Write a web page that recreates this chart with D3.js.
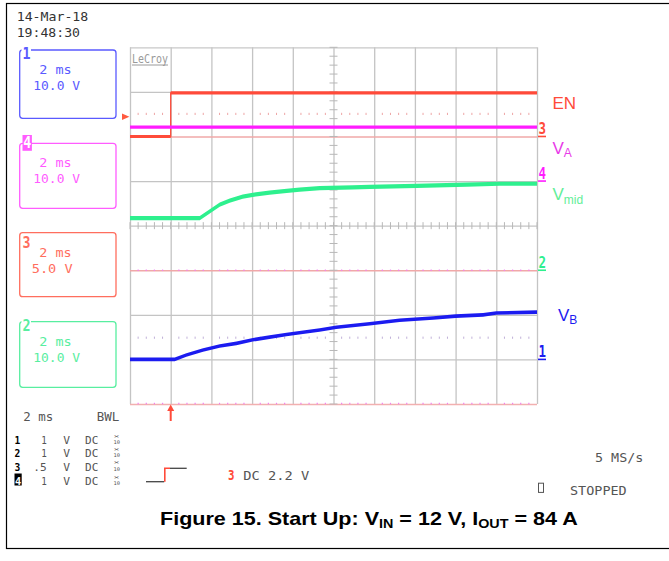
<!DOCTYPE html>
<html><head><meta charset="utf-8">
<script src="https://cdn.jsdelivr.net/npm/d3@7"></script>
<style>body{margin:0;background:#fff}svg{display:block}</style>
</head><body>
<svg id="c" width="669" height="561"></svg>
<script>
// Time base in ms: trigger at 0, 2 ms/div, 10 divisions
const timeDomain = [-2, 18];
const divTimes = d3.range(-2, 18.001, 2);
const divLevels = d3.range(-4, 4.001, 1);

// Channel set-up: volts per division and ground level (in divisions from centre)
const channelIds = ["1", "2", "3", "4"];
const voltsPerDiv = [10, 10, 5, 10];
const groundDiv = [-3, -1, 2, 1];
const channelColors = ["#1c1cf0", "#2ef08e", "#ff4b3a", "#ff1cff"];
const boxColors = ["#5a5aff", "#58eea0", "#ff6e5e", "#ff5cff"];

// EN (channel 3)
const enTime = [-2, 0, 0, 18];
const enVolts = [0, 0, 4.9, 4.9];
// V_A (channel 4)
const vaTime = [-2, 18];
const vaVolts = [12.1, 12.1];
// V_mid (channel 2)
const vmidTime = [-2, 1.43, 1.92, 2.41, 2.9, 3.54, 4.03, 4.86, 5.7, 6.34, 7.32, 8.94, 9.78, 12.09, 14.55, 16.17, 18];
const vmidVolts = [11.7, 11.7, 13.2, 14.7, 15.6, 16.5, 16.9, 17.4, 17.8, 18.1, 18.4, 18.6, 18.7, 18.9, 19.2, 19.4, 19.4];
// V_B (channel 1)
const vbTime = [-2, 0.2, 0.77, 1.59, 2.41, 3.23, 4.04, 4.86, 5.69, 6.5, 7.32, 8.14, 8.96, 9.78, 11.25, 12.9, 14.0, 15.35, 16.0, 18];
const vbVolts = [0, 0, 1.0, 2.1, 3.0, 3.6, 4.4, 5.0, 5.6, 6.1, 6.6, 7.2, 7.6, 8.0, 8.8, 9.3, 9.7, 10.0, 10.4, 10.6];

// Side panel texts
const boxOrder = ["1", "4", "3", "2"];
const boxTimebase = ["2 ms", "2 ms", "2 ms", "2 ms"];
const boxScale = ["10.0 V", "10.0 V", "5.0 V", "10.0 V"];
const rowChannel = ["1", "2", "3", "4"];
const rowScale = ["1", "1", ".5", "1"];
const traceNames = ["EN", "V_A", "V_mid", "V_B"];

const svg = d3.select("#c");
const L = 130, R = 537, T = 47.3, B = 404;
const MONO = "'DejaVu Sans Mono', 'Liberation Mono', monospace";
const SANS = "'Liberation Sans', Arial, sans-serif";

const x = d3.scaleLinear().domain(timeDomain).range([L, R]);
const div = d3.scaleLinear().domain([-4, 4]).range([B, T]);
function chanScale(id) {
  const i = channelIds.indexOf(id);
  return d3.scaleLinear()
    .domain([(-4 - groundDiv[i]) * voltsPerDiv[i], (4 - groundDiv[i]) * voltsPerDiv[i]])
    .range([B, T]);
}

// page frame
svg.append("rect").attr("x", 6.5).attr("y", 3.5).attr("width", 680).attr("height", 545)
  .attr("fill", "none").attr("stroke", "#000").attr("stroke-width", 1.2);

// ---- graticule ----
const hStyle = ["#f2b0b0", "#c4c4c4", "#c4c4c4", "#f0a8a8", "#c4c4c4", "#c4c4c4", "#f0a8a8", "#c4c4c4", "#c8c8c8"];
const gV = svg.append("g").attr("transform", `translate(0,${B})`)
  .call(d3.axisBottom(x).tickValues(divTimes).tickSize(-(B - T)).tickFormat(""));
gV.select(".domain").remove();
gV.selectAll(".tick line").attr("stroke", "#c4c4c4").attr("stroke-width", 1.3);

const gH = svg.append("g").attr("transform", `translate(${L},0)`)
  .call(d3.axisLeft(div).tickValues(divLevels).tickSize(-(R - L)).tickFormat(""));
gH.select(".domain").remove();
gH.selectAll(".tick line").attr("stroke", (d, i) => hStyle[i]).attr("stroke-width", 1.3);

// dotted marks on two levels
const minorT = d3.range(-2, 18.001, 0.4).filter(t => Math.abs(t / 2 - Math.round(t / 2)) > 0.01);
[[113.8, "#eea6a6"], [337.6, "#c0b0d8"]].forEach(([yy, c]) => {
  svg.append("g").selectAll("line").data(minorT).join("line")
    .attr("x1", d => x(d)).attr("x2", d => x(d)).attr("y1", yy - 1).attr("y2", yy + 1.2)
    .attr("stroke", c).attr("stroke-width", 1);
});
// magenta dots on two division lines
[div(-1), div(-4) - 0.5].forEach(yy => {
  svg.append("g").selectAll("line").data(minorT).join("line")
    .attr("x1", d => x(d) - 0.6).attr("x2", d => x(d) + 0.6).attr("y1", yy).attr("y2", yy)
    .attr("stroke", "#f080f0").attr("stroke-width", 1.4);
});

// centre-axis ticks
const cx = x(8), cy = div(0);
const minorV = d3.range(-4, 4.001, 0.2);
svg.append("g").selectAll("line").data(minorV).join("line")
  .attr("x1", cx - 4).attr("x2", cx + 4).attr("y1", d => div(d)).attr("y2", d => div(d))
  .attr("stroke", "#b8b8b8").attr("stroke-width", 1);
svg.append("g").selectAll("line").data(d3.range(-2, 18.001, 0.4)).join("line")
  .attr("x1", d => x(d)).attr("x2", d => x(d)).attr("y1", cy - 3.5).attr("y2", cy + 3.5)
  .attr("stroke", "#b8b8b8").attr("stroke-width", 1);

// LeCroy tag
svg.append("text").attr("x", 132).attr("y", 62.5).text("LeCroy")
  .attr("font-family", MONO).attr("font-size", 11.5).attr("fill", "#9a9a9a")
  .attr("textLength", 36).attr("lengthAdjust", "spacingAndGlyphs");
svg.append("line").attr("x1", 132).attr("x2", 168).attr("y1", 65).attr("y2", 65)
  .attr("stroke", "#9a9a9a").attr("stroke-width", 1);

// ---- traces ----
function drawTrace(id, t, v, half, color) {
  const y = chanScale(id);
  const pts = t.map((d, i) => [d, v[i]]);
  svg.append("path").datum(pts)
    .attr("d", d3.area().x(d => x(d[0])).y0(d => y(d[1]) + half).y1(d => y(d[1]) - half))
    .attr("fill", color);
  svg.append("path").datum(pts)
    .attr("d", d3.line().x(d => x(d[0])).y(d => y(d[1])))
    .attr("fill", "none").attr("stroke", color).attr("stroke-width", 1.3);
}
drawTrace("3", enTime, enVolts, 1.6, channelColors[2]);
drawTrace("4", vaTime, vaVolts, 1.7, channelColors[3]);
drawTrace("2", vmidTime, vmidVolts, 2.1, channelColors[1]);
drawTrace("1", vbTime, vbVolts, 1.8, channelColors[0]);

// trigger markers
svg.append("path").attr("d", "M122,113.4L129.4,116.7L122,120Z").attr("fill", "#ff5a40");
svg.append("line").attr("x1", x(0)).attr("x2", x(0)).attr("y1", 409).attr("y2", 421)
  .attr("stroke", "#ff4b3a").attr("stroke-width", 2);
svg.append("path").attr("d", `M${x(0) - 3.5},411L${x(0)},404.5L${x(0) + 3.5},411Z`).attr("fill", "#ff4b3a");

// ground markers on the right edge
channelIds.forEach((id, i) => {
  const gy = chanScale(id)(0);
  svg.append("text").attr("x", 538.5).attr("y", gy - 2.5).text(id)
    .attr("font-family", MONO).attr("font-weight", "bold").attr("font-size", 16)
    .attr("fill", channelColors[i]).attr("textLength", 7.5).attr("lengthAdjust", "spacingAndGlyphs");
  svg.append("line").attr("x1", 538).attr("x2", 546).attr("y1", gy).attr("y2", gy)
    .attr("stroke", channelColors[i]).attr("stroke-width", 1.6);
});

// trace names
function nameLabel(xp, yp, main, sub, color) {
  const t = svg.append("text").attr("x", xp).attr("y", yp)
    .attr("font-family", SANS).attr("font-size", 17).attr("fill", color);
  t.append("tspan").text(main);
  if (sub) t.append("tspan").text(sub).attr("font-size", 12).attr("dy", 3.5);
}
nameLabel(552.5, 109.3, traceNames[0], null, "#ff4b3a");
nameLabel(552.5, 153.5, "V", traceNames[1].split("_")[1], "#e83ae8");
nameLabel(552.5, 200, "V", traceNames[2].split("_")[1], "#62ee98");
nameLabel(558, 320.5, "V", traceNames[3].split("_")[1], "#1c1cf0");

// ---- left panel ----
function mono(xp, yp, str, size, color, len, weight) {
  const t = svg.append("text").attr("x", xp).attr("y", yp).text(str)
    .attr("font-family", MONO).attr("font-size", size).attr("fill", color);
  if (len) t.attr("textLength", len).attr("lengthAdjust", "spacingAndGlyphs");
  if (weight) t.attr("font-weight", weight);
  return t;
}
mono(16.7, 20.7, "14-Mar-18", 11.5, "#333", 71.6);
mono(16.7, 37.3, "19:48:30", 11.5, "#333", 63.3);

const boxTop = [50, 143.3, 232.7, 321.7];
const boxBot = [118.3, 208.3, 296.7, 387.3];
const labelBase = [58.5, 0, 247.5, 330.5];
boxOrder.forEach((id, k) => {
  const ci = channelIds.indexOf(id);
  const col = boxColors[ci];
  svg.append("rect").attr("x", 19.7).attr("y", boxTop[k]).attr("width", 96.3)
    .attr("height", boxBot[k] - boxTop[k]).attr("rx", 3)
    .attr("fill", "none").attr("stroke", col).attr("stroke-width", 1.3);
  const t0 = boxTop[k];
  mono(39.3, t0 + 24, boxTimebase[k], 12.5, col, 32.4);
  const s = boxScale[k];
  mono(s.length === 5 ? 31.7 : 33.3, t0 + 40, s, 12.5, col, s.length === 5 ? 41 : 46.7);
  if (id === "4") {
    svg.append("rect").attr("x", 22.5).attr("y", 135).attr("width", 9.4).attr("height", 15.8).attr("fill", col);
    mono(23.2, 148.3, id, 16, "#fff", 8, "bold");
  } else {
    svg.append("rect").attr("x", 21.5).attr("y", labelBase[k] - 11.5).attr("width", 9.5).attr("height", 11.5).attr("fill", "#fff");
    mono(22.5, labelBase[k], id, 16, col, 8, "bold");
  }
});

// ---- bottom readout ----
const GREY = "#555";
mono(23.3, 420.7, "2 ms", 12, GREY, 30);
mono(96.7, 420.7, "BWL", 12, GREY, 22.6);
const rowBase = [444, 457.3, 470.7, 485];
rowChannel.forEach((id, r) => {
  const yb = rowBase[r];
  if (id === "4") {
    svg.append("rect").attr("x", 14.5).attr("y", yb - 11.5).attr("width", 7.2).attr("height", 12).attr("fill", "#000");
    mono(15, yb - 0.5, id, 11.2, "#fff", 6.2, "bold");
  } else {
    mono(14.5, yb, id, 11.2, "#000", 5.8, "bold");
  }
  const sc = rowScale[r];
  mono(sc.length === 2 ? 33.3 : 41.2, yb, sc, 11.2, GREY, sc.length === 2 ? 13.4 : 5.6);
  mono(63.3, yb, "V", 11.2, GREY, 6.8);
  mono(85, yb, "DC", 11.2, GREY, 13.3);
  mono(113.5, yb - 6.4, "\u00d7", 5, GREY, 6);
  mono(113.5, yb, "10", 5, GREY, 6.5);
});

// trigger slope icon and level
svg.append("path").attr("d", "M146,481.7H164.2").attr("stroke", "#444").attr("stroke-width", 1.3).attr("fill", "none");
svg.append("path").attr("d", "M164.8,481.7V468.3H170").attr("stroke", "#ff4b3a").attr("stroke-width", 1.6).attr("fill", "none");
svg.append("path").attr("d", "M170,468.3H186.7").attr("stroke", "#444").attr("stroke-width", 1.3).attr("fill", "none");
mono(228, 480, "3", 13.5, "#ff4b3a", 6.5, "bold");
mono(243.3, 480, "DC 2.2 V", 12, GREY, 66);

// acquisition status
mono(595, 461.7, "5 MS/s", 12, GREY, 48.3);
svg.append("rect").attr("x", 538.5).attr("y", 483.2).attr("width", 5).attr("height", 9.2)
  .attr("fill", "none").attr("stroke", "#555").attr("stroke-width", 1);
mono(570, 494.8, "STOPPED", 12, GREY, 56.7);

// ---- caption ----
const cap = svg.append("text").attr("font-family", SANS).attr("font-weight", "bold")
  .attr("font-size", 18).attr("fill", "#000");
cap.append("tspan").text("Figure 15. Start Up: V");
cap.append("tspan").text("IN").attr("font-size", 12).attr("dy", 2.5);
cap.append("tspan").text(" = 12 V, I").attr("dy", -2.5);
cap.append("tspan").text("OUT").attr("font-size", 12).attr("dy", 2.5);
cap.append("tspan").text(" = 84 A").attr("dy", -2.5);
const bb = cap.node().getBBox();
cap.attr("transform", `translate(${160 - bb.x * (418 / bb.width)},525) scale(${418 / bb.width},1)`);
</script>
</body></html>
